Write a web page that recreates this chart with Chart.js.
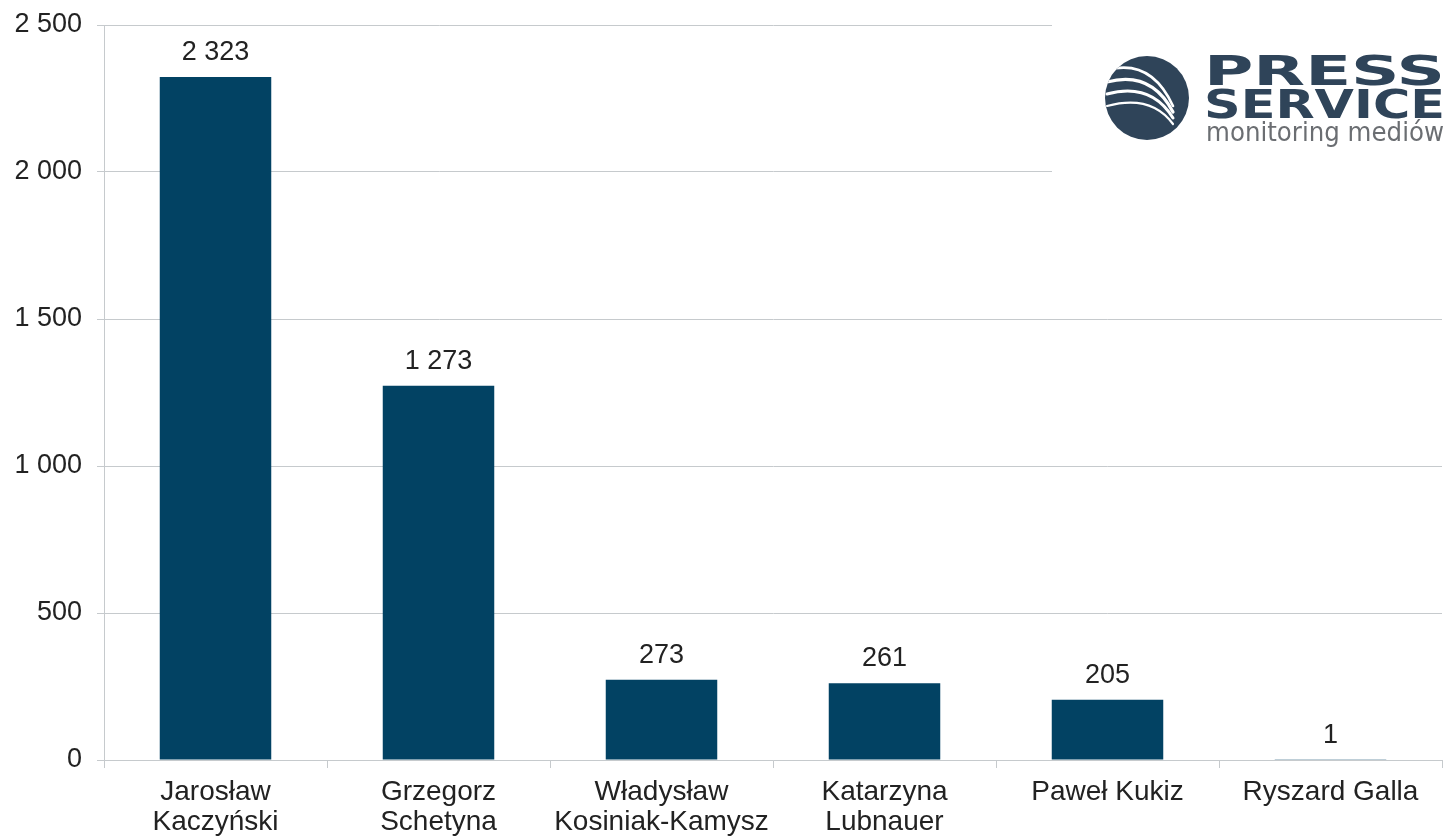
<!DOCTYPE html>
<html>
<head>
<meta charset="utf-8">
<script src="https://cdn.jsdelivr.net/npm/chart.js@4/dist/chart.umd.min.js"></script>
<style>
  html, body { margin: 0; padding: 0; background: #fff; }
  #wrap { width: 1449px; height: 837px; position: relative; }
</style>
</head>
<body>
<div id="wrap"><canvas id="chart"></canvas></div>
<script>
const categories = [
  ['Jarosław', 'Kaczyński'],
  ['Grzegorz', 'Schetyna'],
  ['Władysław', 'Kosiniak-Kamysz'],
  ['Katarzyna', 'Lubnauer'],
  'Paweł Kukiz',
  'Ryszard Galla',
];
const mentions = [2323, 1273, 273, 261, 205, 1];
const yTicks = [0, 500, 1000, 1500, 2000, 2500];

const barColour = '#024263';
const gridColour = '#c6cacd';
const textColour = '#222222';
const fontFamily = "'Liberation Sans', Arial, sans-serif";

function formatNumber(value) {
  return String(Math.round(value)).replace(/\B(?=(\d{3})+(?!\d))/g, ' ');
}

const valueLabelPlugin = {
  id: 'valueLabel',
  afterDatasetsDraw(chart) {
    const { ctx } = chart;
    const meta = chart.getDatasetMeta(0);
    ctx.save();
    ctx.fillStyle = textColour;
    ctx.font = `27px ${fontFamily}`;
    ctx.textAlign = 'center';
    ctx.textBaseline = 'alphabetic';
    meta.data.forEach((bar, i) => {
      ctx.fillText(formatNumber(mentions[i]), bar.x, bar.y - 17);
    });
    ctx.restore();
  },
};

// stretch a line of text so it fills the given width
function fillStretched(ctx, text, x, y, width, sy) {
  const w = ctx.measureText(text).width;
  ctx.save();
  ctx.translate(x, y);
  ctx.scale(width / w, sy);
  ctx.fillText(text, 0, 0);
  ctx.restore();
}

// press service logo, drawn on a white patch in the top right corner
const logoPlugin = {
  id: 'logo',
  afterDraw(chart) {
    const { ctx } = chart;
    ctx.save();
    ctx.fillStyle = '#ffffff';
    ctx.fillRect(1052, 0, 397, 182);

    const navy = '#2f4459';
    const cx = 1147, cy = 98, r = 42;
    ctx.fillStyle = navy;
    ctx.beginPath();
    ctx.arc(cx, cy, r, 0, Math.PI * 2);
    ctx.fill();

    // white swooshes inside the circle
    ctx.save();
    ctx.beginPath();
    ctx.arc(cx, cy, r, 0, Math.PI * 2);
    ctx.clip();
    ctx.strokeStyle = '#ffffff';
    ctx.lineCap = 'round';
    [[-12, 2.6], [0, 3.2], [12, 3.0], [24, 2.2]].forEach(([off, w]) => {
      ctx.lineWidth = w;
      ctx.beginPath();
      ctx.moveTo(cx - 40, cy - 16 + off);
      ctx.quadraticCurveTo(cx + 4, cy - 28 + off, cx + 26, cy + 14 + off * 0.5);
      ctx.stroke();
    });
    ctx.restore();

    ctx.fillStyle = navy;
    ctx.textBaseline = 'alphabetic';
    ctx.textAlign = 'left';
    ctx.font = `bold 40px 'DejaVu Sans', sans-serif`;
    fillStretched(ctx, 'PRESS', 1204, 85, 241, 1.02);
    fillStretched(ctx, 'SERVICE', 1204, 118, 241, 0.98);

    ctx.fillStyle = '#6b6e72';
    ctx.font = `26px 'DejaVu Sans', sans-serif`;
    fillStretched(ctx, 'monitoring mediów', 1206, 141, 238, 1);
    ctx.restore();
  },
};

new Chart(document.getElementById('chart'), {
  type: 'bar',
  data: {
    labels: categories,
    datasets: [
      {
        data: mentions,
        backgroundColor: barColour,
        borderWidth: 0,
        barPercentage: 0.5,
        categoryPercentage: 1,
      },
    ],
  },
  plugins: [valueLabelPlugin, logoPlugin],
  options: {
    responsive: true,
    maintainAspectRatio: false,
    animation: false,
    layout: { padding: { top: 25, right: 7, left: 0, bottom: 0 } },
    plugins: {
      legend: { display: false },
      tooltip: { enabled: false },
    },
    scales: {
      y: {
        min: 0,
        max: 2500,
        afterFit(scale) {
          scale.width = 104;
          scale.paddingTop = 0;
          scale.paddingBottom = 0;
        },
        afterBuildTicks(scale) { scale.ticks = yTicks.map((v) => ({ value: v })); },
        ticks: {
          color: textColour,
          font: { family: fontFamily, size: 27 },
          padding: 15,
          callback: (v) => formatNumber(v),
        },
        grid: { color: gridColour, lineWidth: 1, tickLength: 7 },
        border: { color: gridColour, width: 1 },
      },
      x: {
        afterFit(scale) { scale.height = 77; },
        ticks: {
          color: textColour,
          font: { family: fontFamily, size: 28, lineHeight: 1.07 },
          padding: 9,
          maxRotation: 0,
          autoSkip: false,
        },
        grid: { color: gridColour, drawOnChartArea: false, tickLength: 8, offset: true },
        border: { color: gridColour, width: 1 },
      },
    },
  },
});
</script>
</body>
</html>
